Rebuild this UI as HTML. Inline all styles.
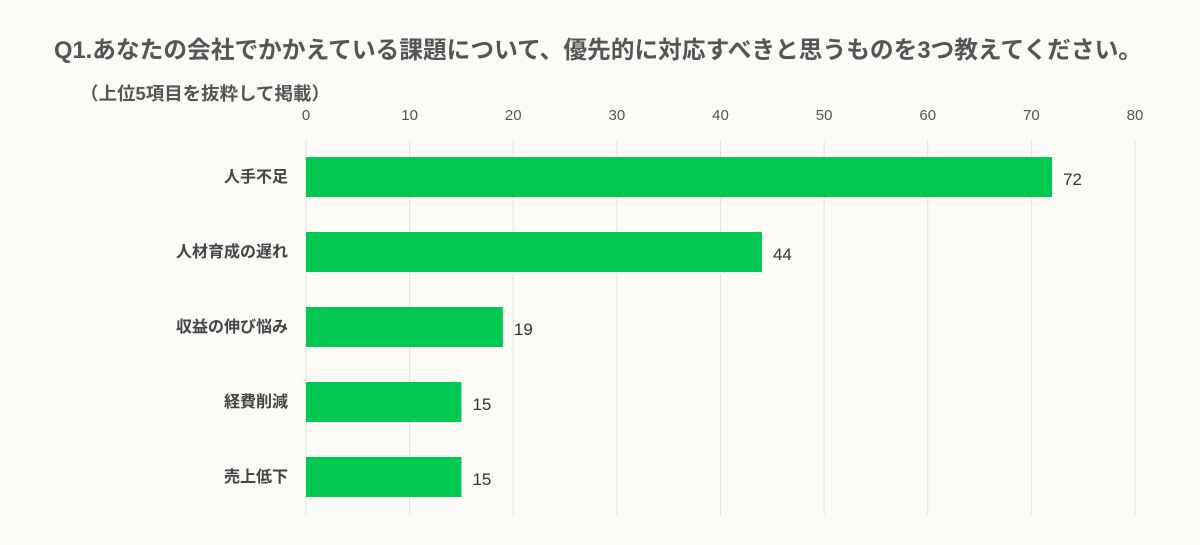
<!DOCTYPE html>
<html><head><meta charset="utf-8"><style>
body{margin:0;background:#fcfbf8;}
svg{display:block;font-family:"Liberation Sans","Noto Sans CJK JP",sans-serif;}
</style></head><body>
<svg width="1200" height="545">
<rect width="1200" height="545" fill="#fcfbf8"/>
<text x="54" y="58" font-size="24" font-weight="bold" fill="#555" textLength="1088" lengthAdjust="spacingAndGlyphs">Q1.あなたの会社でかかえている課題について、優先的に対応すべきと思うものを3つ教えてください。</text>
<text x="80" y="100" font-size="18" font-weight="bold" fill="#555" textLength="250" lengthAdjust="spacingAndGlyphs">（上位5項目を抜粋して掲載）</text>
<g id="grid"></g><g id="bars"></g>
</svg>
<script>
const categories=["人手不足","人材育成の遅れ","収益の伸び悩み","経費削減","売上低下"];
const values=[72,44,19,15,15];
const ticks=[0,10,20,30,40,50,60,70,80];
const NS="http://www.w3.org/2000/svg";
const x=v=>306+v*(829/80);
const yc=i=>177+i*75;
const g=document.getElementById('grid'),b=document.getElementById('bars');
function mk(p,t,a){const e=document.createElementNS(NS,t);for(const k in a)e.setAttribute(k,a[k]);p.appendChild(e);return e;}
ticks.forEach(t=>{
 const l=mk(g,'line',{x1:x(t),x2:x(t),y1:140,y2:515,stroke:'#e2e2e2','stroke-width':1});
 
 
 const tx=mk(g,'text',{x:x(t),y:120,'font-size':15,fill:'#555','text-anchor':'middle'});
 tx.textContent=t;
 
 
});
categories.forEach((c,i)=>{
 const r=mk(b,'rect',{x:x(0),y:yc(i)-20,width:x(values[i])-x(0),height:40,fill:'#00c850'});
 
 
 const lb=mk(b,'text',{x:288,y:yc(i)+5,'font-size':16,'font-weight':'bold',fill:'#444','text-anchor':'end'});
 lb.textContent=c;
 
 
 const vl=mk(b,'text',{x:x(values[i])+11,y:yc(i)+8,'font-size':17,fill:'#333'});
 vl.textContent=values[i];
 
 
});
</script>
</body></html>
